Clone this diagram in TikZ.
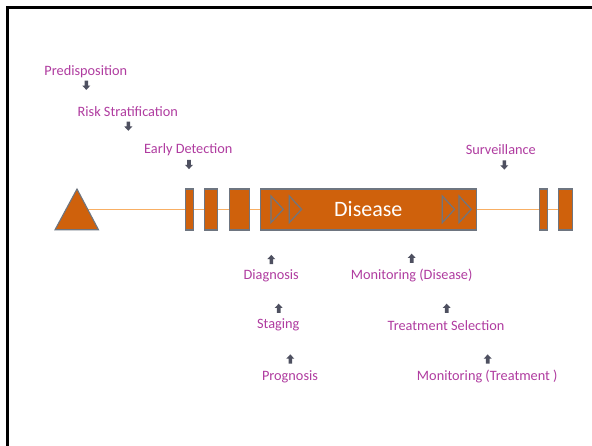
\documentclass[tikz,border=0pt]{standalone}
\usepackage{fontspec}
\setmainfont{Carlito}
\usetikzlibrary{positioning,backgrounds}
\definecolor{diseaseorange}{RGB}{207,97,12}
\definecolor{edgegray}{RGB}{110,117,128}
\definecolor{labelpink}{RGB}{176,60,160}
\definecolor{arrowgray}{RGB}{78,80,96}
\definecolor{timelineorange}{RGB}{248,175,100}

\tikzset{
  stage/.style={text=labelpink, font=\fontsize{14.3}{17}\selectfont, inner sep=0pt, yshift=-1.2pt},
  block/.style={draw=edgegray, fill=diseaseorange, line width=1.1pt, minimum height=41, inner sep=0pt},
  chev/.style={draw=edgegray, line width=1.2pt, line join=miter},
  downarrow/.pic={\fill[arrowgray] (-1.8,-4.6) -- (1.8,-4.6) -- (1.8,0.3) -- (4,0.3) -- (0,4.6) -- (-4,0.3) -- (-1.8,0.3) -- cycle;},
  uparrow/.pic={\fill[arrowgray] (-1.8,4.6) -- (1.8,4.6) -- (1.8,-0.3) -- (4,-0.3) -- (0,-4.6) -- (-4,-0.3) -- (-1.8,-0.3) -- cycle;}
}

\begin{document}
\begin{tikzpicture}[x=1pt,y=-1pt]
\useasboundingbox (0,0) rectangle (592,446);
% frame
\draw[line width=2.6pt] (7.3,460) -- (7.3,7.3) -- (600,7.3);

% timeline
\coordinate (tri) at (77,209.5);
\draw[block] (55,229.8) -- (77,189) -- (98.5,229.8) -- cycle;
\node[block, minimum width=8]   (r1) at (189.2,209.5) {};
\node[block, minimum width=13]  (r2) at (211.2,209.5) {};
\node[block, minimum width=20]  (r3) at (239.2,209.5) {};
\node[block, minimum width=215.5, text=white, font=\fontsize{22}{26}\selectfont] (dis) at (368.3,209.5) {Disease};
\node[block, minimum width=8]   (r5) at (543.3,209.5) {};
\node[block, minimum width=13.6]  (r6) at (565.5,209.5) {};
\begin{scope}[on background layer]
  \fill[white] (0,0) rectangle (592,446);
  \draw[timelineorange, line width=1.1pt] (tri) -- (r6.west);
\end{scope}
\foreach \x in {271,289.3,442.3,459}
  \draw[chev] (\x,196) -- ++(12.3,13.3) -- ++(-12.3,13.3) -- cycle;

% stages before the disease
\node[stage] (pre)  at (85.8,70)    {Predisposition};
\node[stage] (risk) at (127.8,110)  {Risk Stratification};
\node[stage] (early) at (188.3,148.3) {Early Detection};
\node[stage] (surv) at (500.8,148.3) {Surveillance};
\pic at (86.3,85.3)  {downarrow};
\pic at (128.3,126.2) {downarrow};
\pic at (189,164.5) {downarrow};
\pic at (504.3,165) {downarrow};

% stages after the disease
\node[stage] (diag)  at (271.2,274.3) {Diagnosis};
\node[stage] (stag)  at (278.3,324)   {Staging};
\node[stage] (prog)  at (290,375.7)   {Prognosis};
\node[stage] (mondis) at (411.7,274)  {Monitoring (Disease)};
\node[stage] (treat) at (446,324)     {Treatment Selection};
\node[stage] (montr) at (487.3,375.3) {Monitoring (Treatment )};
\pic at (271.3,259.5) {uparrow};
\pic at (278.7,308.3) {uparrow};
\pic at (290.3,359) {uparrow};
\pic at (411.7,258.3) {uparrow};
\pic at (446.7,308.3) {uparrow};
\pic at (487.7,359) {uparrow};
\end{tikzpicture}
\end{document}
